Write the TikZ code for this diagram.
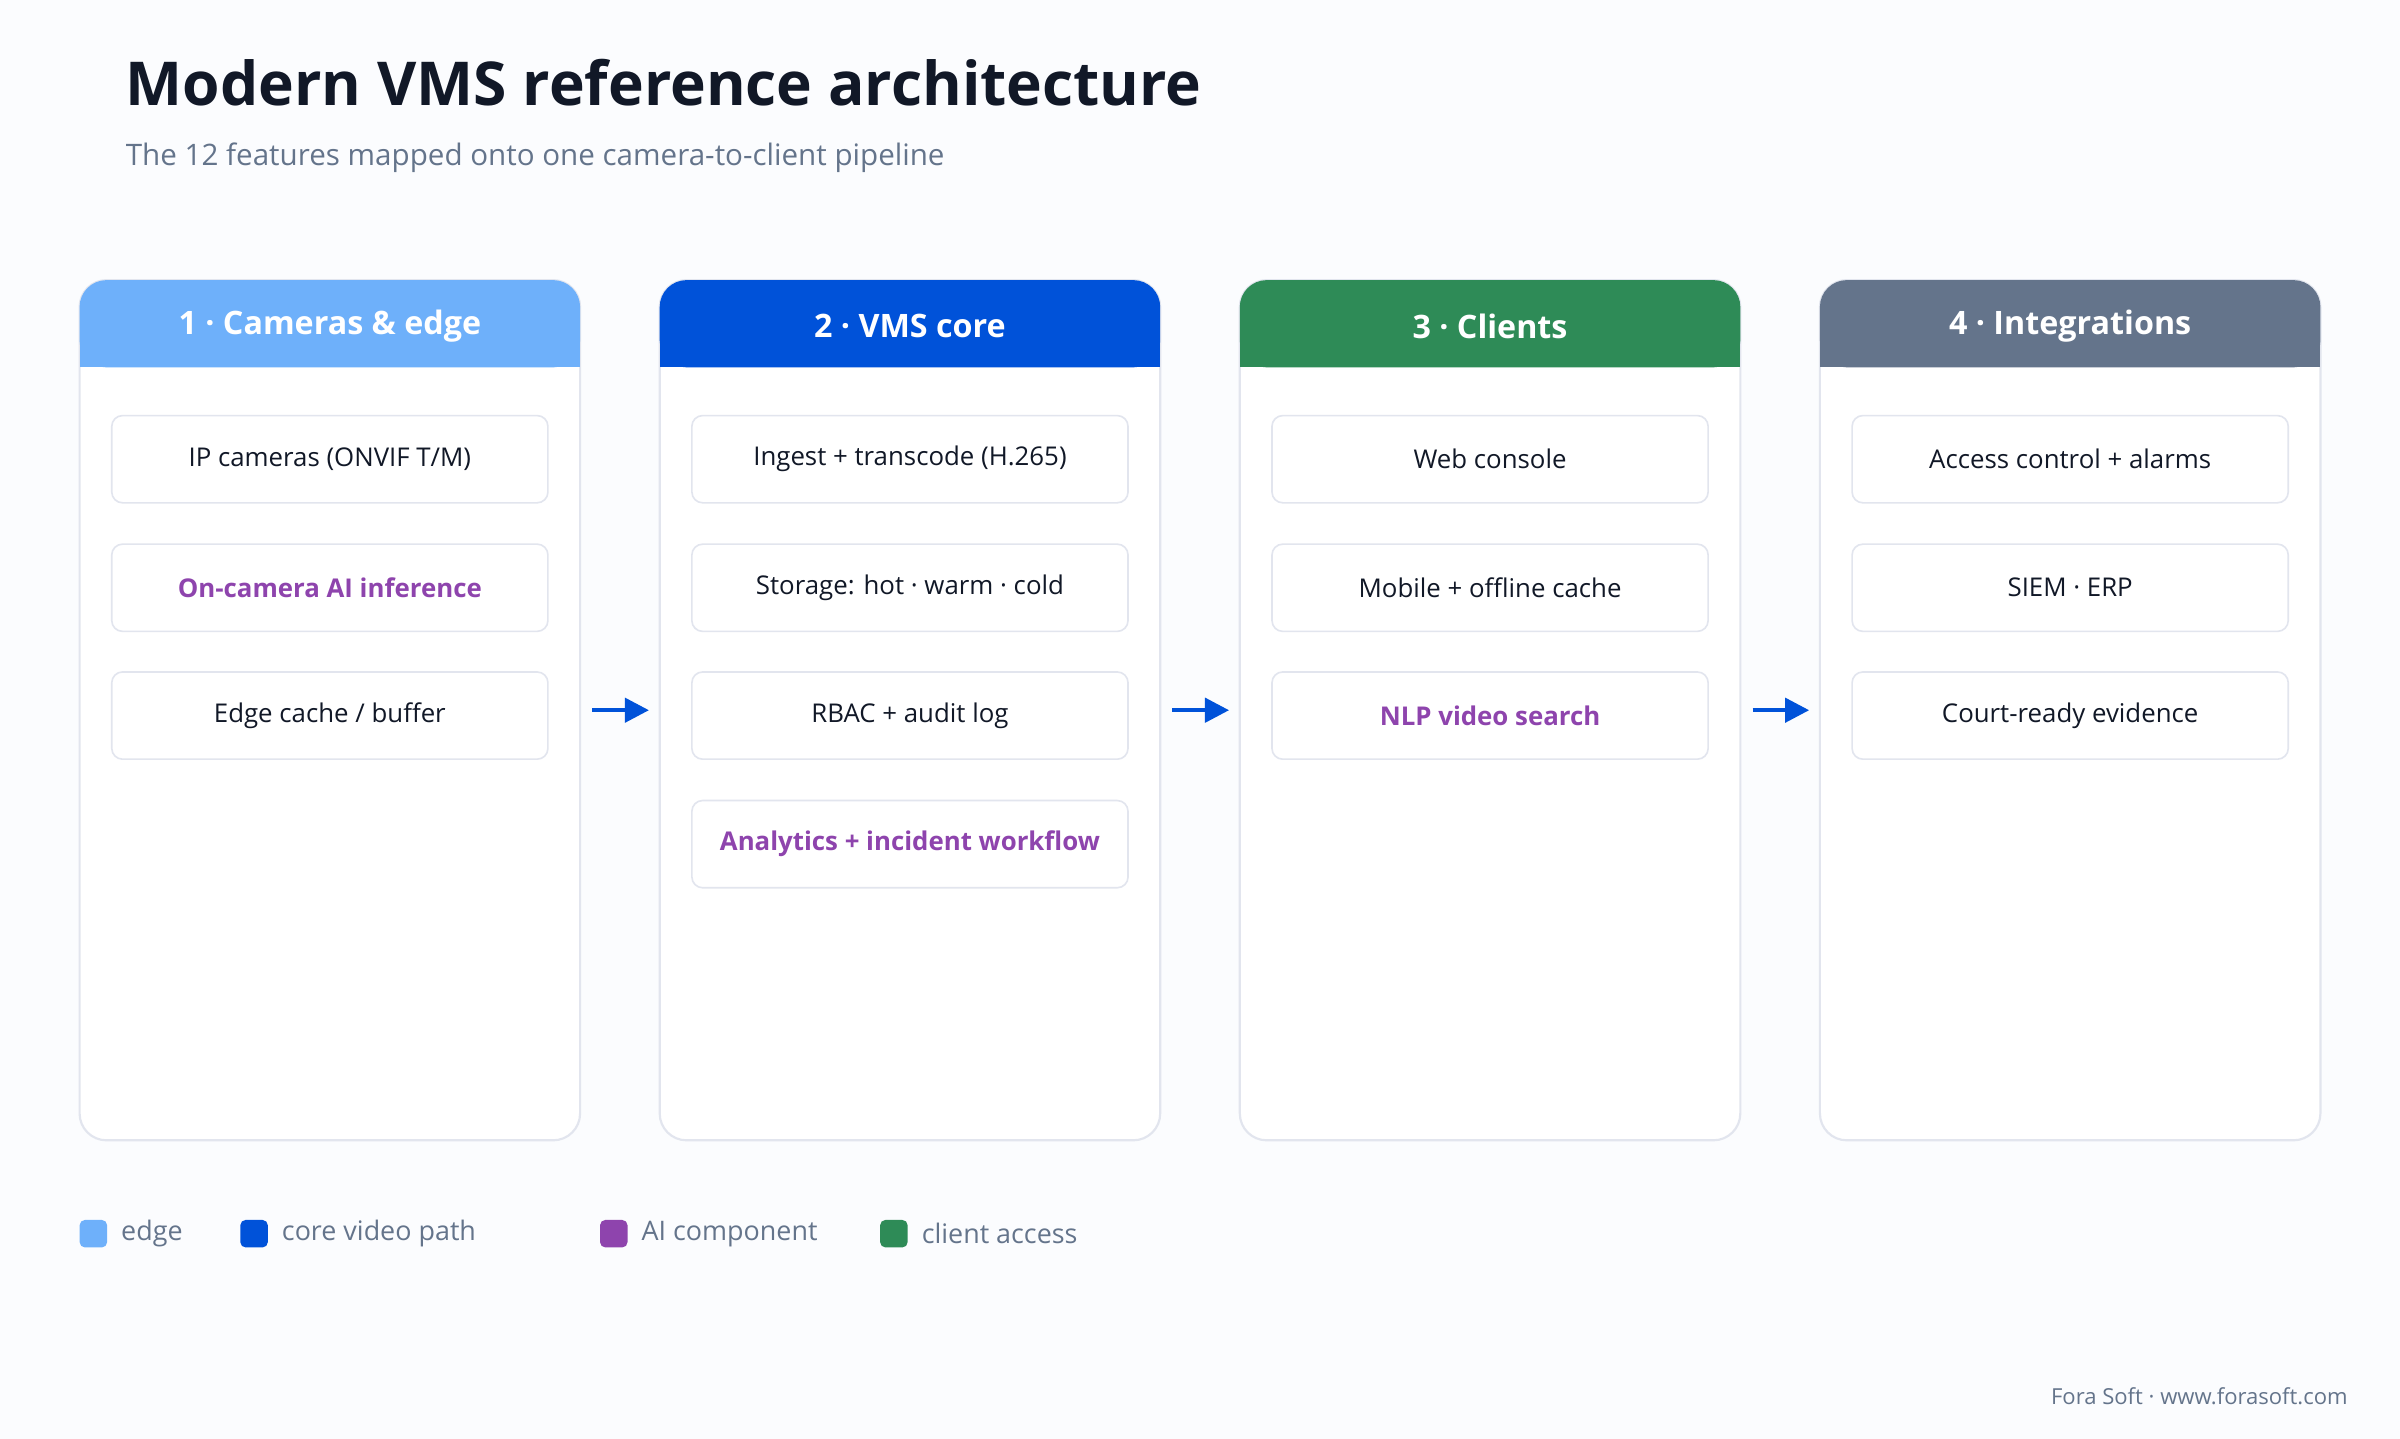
\documentclass[tikz,border=0pt]{standalone}
\usepackage{fontspec}
\setmainfont{Open Sans}
\usetikzlibrary{positioning,arrows.meta}
\definecolor{bgc}{HTML}{FBFCFE}
\definecolor{ink}{HTML}{111827}
\definecolor{muted}{HTML}{64748B}
\definecolor{edgec}{HTML}{6EB0FA}
\definecolor{corec}{HTML}{0052D9}
\definecolor{clientc}{HTML}{2E8B57}
\definecolor{intc}{HTML}{64748B}
\definecolor{aic}{HTML}{8E44AD}
\definecolor{linec}{HTML}{E2E5EE}
\tikzset{
  item/.style={draw=linec, line width=0.6pt, fill=white, rounded corners=4pt,
    minimum width=5.7cm, minimum height=1.14cm, font=\fontsize{9.6}{11}\selectfont, text=ink},
  aiitem/.style={item, text=aic, font=\fontsize{9.6}{11}\selectfont\bfseries},
  headtxt/.style={text=white, font=\fontsize{12}{14}\selectfont\bfseries},
  flow/.style={draw=corec, line width=1.6pt, -{Triangle[length=9pt,width=9pt]}},
  legtxt/.style={text=muted, font=\fontsize{10}{12}\selectfont, anchor=west}
}
\begin{document}
\begin{tikzpicture}[x=0.02cm,y=-0.02cm]
\fill[bgc] (0,0) rectangle (1568,940);
% Title
\node[anchor=west, text=ink, font=\fontsize{22.5}{26}\selectfont\bfseries] (title) at (76,54) {Modern VMS reference architecture};
\node[anchor=west, text=muted, font=\fontsize{11}{13}\selectfont] (subtitle) at (76,103) {The 12 features mapped onto one camera-to-client pipeline};
% Columns
\foreach \x/\c/\t/\n in {52/edgec/1 · Cameras \& edge/a, 431/corec/2 · VMS core/b, 810/clientc/3 · Clients/c, 1189/intc/4 · Integrations/d}{
  \draw[linec, line width=0.8pt, fill=white, rounded corners=10pt] (\x,183) rectangle (\x+327,745);
  \fill[\c, rounded corners=10pt] (\x,183) rectangle (\x+327,240);
  \fill[\c] (\x,215) rectangle (\x+327,240);
  \node[headtxt] (head\n) at (\x+163.5,213) {\t};
}
% Column 1
\node[item] (ipcam) at (215.5,300) {IP cameras (ONVIF T/M)};
\node[aiitem] (oncam) at (215.5,384) {On-camera AI inference};
\node[item] (edgecache) at (215.5,467.5) {Edge cache / buffer};
% Column 2
\node[item] (ingest) at (594.5,300) {Ingest + transcode (H.265)};
\node[item] (storage) at (594.5,384) {Storage: hot · warm · cold};
\node[item] (rbac) at (594.5,467.5) {RBAC + audit log};
\node[aiitem] (analytics) at (594.5,551.5) {Analytics + incident workflow};
% Column 3
\node[item] (web) at (973.5,300) {Web console};
\node[item] (mobile) at (973.5,384) {Mobile + offline cache};
\node[aiitem] (nlp) at (973.5,467.5) {NLP video search};
% Column 4
\node[item] (access) at (1352.5,300) {Access control + alarms};
\node[item] (siem) at (1352.5,384) {SIEM · ERP};
\node[item] (court) at (1352.5,467.5) {Court-ready evidence};
% Arrows
\foreach \x/\n in {387/ab, 766/bc, 1145/cd}{
  \coordinate (s\n) at (\x,464);
  \coordinate (e\n) at (\x+37,464);
  \draw[flow] (s\n) -- (e\n);
}
% Legend
\foreach \x/\c/\t/\n in {52/edgec/edge/l1, 157/corec/core video path/l2, 392/aic/AI component/l3, 575/clientc/client access/l4}{
  \fill[\c, rounded corners=2pt] (\x,797) rectangle (\x+18,815);
  \node[legtxt] (\n) at (\x+21,806) {\t};
}
\node[anchor=east, text=muted, font=\fontsize{8.2}{10}\selectfont] (footer) at (1540,912) {Fora Soft · www.forasoft.com};
\end{tikzpicture}
\end{document}
